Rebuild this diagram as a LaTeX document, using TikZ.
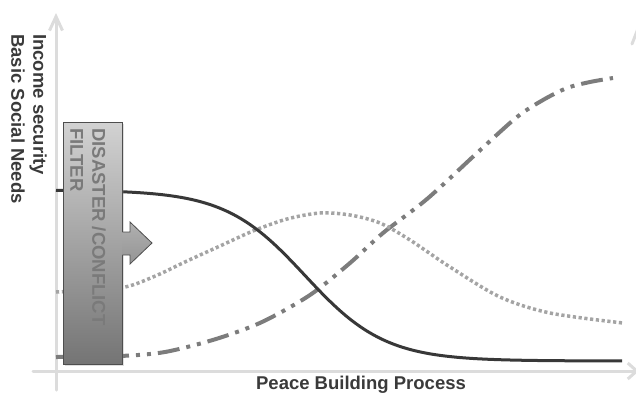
\documentclass[tikz,border=0pt]{standalone}
\usepackage{fontspec}
\setmainfont{Liberation Sans}
\usetikzlibrary{arrows.meta,shadows}
\definecolor{axisgray}{HTML}{DCDCDC}
\definecolor{labelgray}{HTML}{3A3A3A}
\definecolor{solidcurve}{HTML}{383838}
\definecolor{dotcurve}{HTML}{A4A4A4}
\definecolor{dashcurve}{HTML}{7C7C7C}
\definecolor{boxtop}{HTML}{D2D2D2}
\definecolor{boxbottom}{HTML}{747474}
\definecolor{boxedge}{HTML}{4E4E4E}
\definecolor{boxtext}{HTML}{7A7A7A}
\definecolor{arrowtop}{HTML}{B0B0B0}
\definecolor{arrowbottom}{HTML}{949494}
\begin{document}
\begin{tikzpicture}[x=1pt,y=-1pt,
  axisline/.style={draw=axisgray, line width=3pt, line cap=round},
  axislabel/.style={font=\fontsize{18.5}{22}\selectfont\bfseries, text=labelgray, inner sep=0pt, align=left},
  incomecurve/.style={draw=solidcurve, line width=3pt},
  needscurve/.style={draw=dotcurve, line width=3.5pt, dash pattern=on 3.2pt off 2.6pt},
  processcurve/.style={draw=dashcurve, line width=4pt, dash pattern=on 22pt off 7pt on 4pt off 7pt on 4pt off 7pt},
  filterbox/.style={draw=boxedge, line width=0.8pt, top color=boxtop, bottom color=boxbottom,
    minimum width=59pt, minimum height=242pt, inner sep=0pt,
    drop shadow={opacity=0.25, shadow xshift=1.5pt, shadow yshift=-1.5pt}},
  filterlabel/.style={font=\fontsize{18.5}{22}\selectfont\bfseries, text=boxtext, inner sep=0pt, align=left},
  filterarrow/.style={draw=boxedge, line width=0.8pt, top color=arrowtop, bottom color=arrowbottom},
]
\useasboundingbox (0,0) rectangle (636,394);
\clip (0,0) rectangle (636,394);

% axes
\coordinate (xstart) at (33,371);
\coordinate (xend) at (639,371);
\coordinate (ystart) at (56,390);
\coordinate (yend) at (56,13);
\draw[axisline, -{Straight Barb[length=9pt,width=16pt,line width=3pt]}] (xstart) -- (xend);
\draw[axisline, -{Straight Barb[length=14pt,width=13pt,line width=3pt]}] (ystart) -- (yend);
\coordinate (edgea) at (639,26);
\coordinate (edgeb) at (632,44);
\draw[axisline] (edgea) -- (edgeb);

% axis labels
\node[axislabel, rotate=-90, anchor=north west] (ylabel) at (47,34) {Income security\\Basic Social Needs};
\node[axislabel, anchor=base] (xlabel) at (361,389) {Peace Building Process};

% curves
\draw[processcurve] plot[smooth, tension=0.5] coordinates {
  (56,357) (120,356) (165,352) (216,339) (262,322) (310,295) (350,263)
  (383,233) (427,199) (477,153) (517,117) (543,100) (567,88) (590,82) (613,78)};
\draw[needscurve] plot[smooth, tension=0.5] coordinates {
  (56,292) (120,288) (153,277) (187,261) (220,246) (253,231) (287,219)
  (320,213) (350,215) (380,223) (410,240) (450,267) (500,297) (550,313) (623,323)};
\draw[incomecurve] plot[domain=56:622, samples=160, smooth]
  (\x, {190 + 171/(1 + exp(-(\x - 305)/40))});

% filter box with arrow
\node[filterbox] (filter) at (92.5,243.5) {};
\draw[filterarrow] (filter.east |- 0,232) -- (130,232) -- (130,222) -- (152,243)
  -- (130,264) -- (130,255) -- (filter.east |- 0,255);
\node[filterlabel, rotate=-90, anchor=north west] (filtertext) at (106,128) {DISASTER /CONFLICT\\FILTER};
\end{tikzpicture}
\end{document}
